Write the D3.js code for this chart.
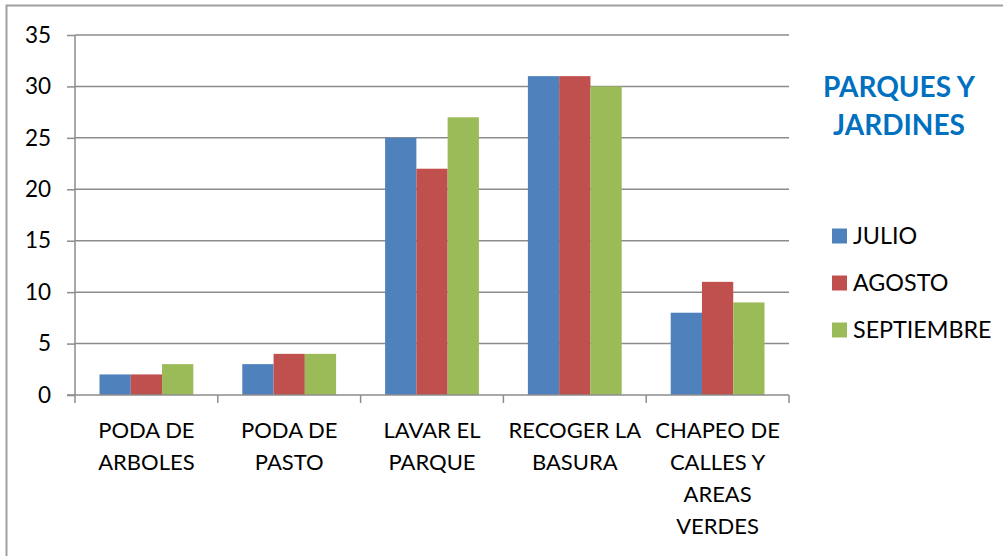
<!DOCTYPE html>
<html>
<head>
<meta charset="utf-8">
<script src="https://cdn.jsdelivr.net/npm/d3@7"></script>
<style>
  body { margin: 0; background: #fff; }
  svg { display: block; font-family: Lato, "Open Sans", sans-serif; }
</style>
</head>
<body>
<div id="chart"></div>
<script>
// data
let categories = [
  ['PODA DE', 'ARBOLES'],
  ['PODA DE', 'PASTO'],
  ['LAVAR EL', 'PARQUE'],
  ['RECOGER LA', 'BASURA'],
  ['CHAPEO DE', 'CALLES Y', 'AREAS', 'VERDES']
];
let seriesNames = ['JULIO', 'AGOSTO', 'SEPTIEMBRE'];
let julio = [2, 3, 25, 31, 8];
let agosto = [2, 4, 22, 31, 11];
let septiembre = [3, 4, 27, 30, 9];
let yTicks = [0, 5, 10, 15, 20, 25, 30, 35];
let title = ['PARQUES Y', 'JARDINES'];

let colors = ['#4F81BD', '#C0504D', '#9BBB59'];
let series = [julio, agosto, septiembre];

let W = 1003, H = 556;
let margin = {top: 35, left: 75};
let width = 714;
let height = 360;

let svg = d3.select('#chart')
  .append('svg')
  .attr('width', W)
  .attr('height', H);

// outer chart border (only top/left visible in the frame)
svg.append('rect')
  .attr('x', 6.5).attr('y', 5.5)
  .attr('width', 1100).attr('height', 700)
  .attr('fill', 'none')
  .attr('stroke', '#a0a0a0')
  .attr('stroke-width', 2);

let g = svg.append('g')
  .attr('transform', `translate(${margin.left},${margin.top})`);

let idx = categories.map((d, i) => i);
let x0 = d3.scaleBand().domain(idx).range([0, width]).padding(0);
let gap = 24.5;
let x1 = d3.scaleBand().domain(d3.range(3)).range([gap, x0.bandwidth() - gap]).padding(0);
let y = d3.scaleLinear().domain([0, 35]).range([height, 0]);

// gridlines
g.append('g')
  .attr('class', 'grid')
  .selectAll('line')
  .data(yTicks.filter(d => d > 0))
  .enter()
  .append('line')
  .attr('x1', 0)
  .attr('x2', width)
  .attr('y1', d => y(d))
  .attr('y2', d => y(d))
  .attr('stroke', '#8c8c8c')
  .attr('stroke-width', 1.5);

// bars
series.forEach((vals, s) => {
  g.append('g')
    .attr('class', 'bars')
    .selectAll('rect')
    .data(vals)
    .enter()
    .append('rect')
    .attr('x', (d, i) => x0(i) + x1(s))
    .attr('y', d => y(d))
    .attr('width', x1.bandwidth())
    .attr('height', d => y(0) - y(d))
    .attr('fill', colors[s]);
});

// y axis
let yAxis = g.append('g')
  .attr('class', 'y axis')
  .call(d3.axisLeft(y).tickValues(yTicks).tickSize(8).tickPadding(16));
yAxis.selectAll('line').attr('stroke', '#8c8c8c').attr('stroke-width', 1.5);
yAxis.select('.domain').attr('stroke', '#8c8c8c').attr('stroke-width', 1.5)
  .attr('d', `M0,${height}V0`);
yAxis.selectAll('text').attr('font-size', 22.5).attr('fill', '#000')
  .attr('font-family', 'Lato, sans-serif');

// x axis
let xTicks = d3.range(categories.length + 1).map(i => i * x0.step());
let xAxis = g.append('g')
  .attr('class', 'x axis')
  .attr('transform', `translate(0,${height})`);
xAxis.append('line')
  .attr('x1', -8).attr('x2', width)
  .attr('stroke', '#8c8c8c').attr('stroke-width', 1.5);
xAxis.selectAll('.tick')
  .data(xTicks)
  .enter()
  .append('line')
  .attr('class', 'tick')
  .attr('x1', d => d).attr('x2', d => d)
  .attr('y1', 0).attr('y2', 8)
  .attr('stroke', '#8c8c8c').attr('stroke-width', 1.5);

let labels = xAxis.selectAll('text.cat')
  .data(categories)
  .enter()
  .append('text')
  .attr('class', 'cat')
  .attr('text-anchor', 'middle')
  .attr('font-size', 22)
  .attr('fill', '#000');
labels.each(function(d, i) {
  let t = d3.select(this);
  d.forEach((line, j) => {
    t.append('tspan')
      .attr('x', x0(i) + x0.bandwidth() / 2)
      .attr('y', 43 + j * 32)
      .text(line);
  });
});

// title
svg.append('g')
  .selectAll('text')
  .data(title)
  .enter()
  .append('text')
  .attr('x', 899)
  .attr('y', (d, i) => 97 + i * 38)
  .attr('text-anchor', 'middle')
  .attr('font-size', 28)
  .attr('font-weight', 'bold')
  .attr('fill', '#0070C0')
  .text(d => d);

// legend
let legend = svg.append('g')
  .attr('class', 'legend')
  .selectAll('g')
  .data(seriesNames)
  .enter()
  .append('g')
  .attr('transform', (d, i) => `translate(832,${236 + i * 47})`);
legend.append('rect')
  .attr('x', 0).attr('y', -7.5)
  .attr('width', 15).attr('height', 15)
  .attr('fill', (d, i) => colors[i]);
legend.append('text')
  .attr('x', 21)
  .attr('y', 0)
  .attr('dy', '0.36em')
  .attr('font-size', 23.3)
  .attr('fill', '#000')
  .text(d => d);
</script>
</body>
</html>
